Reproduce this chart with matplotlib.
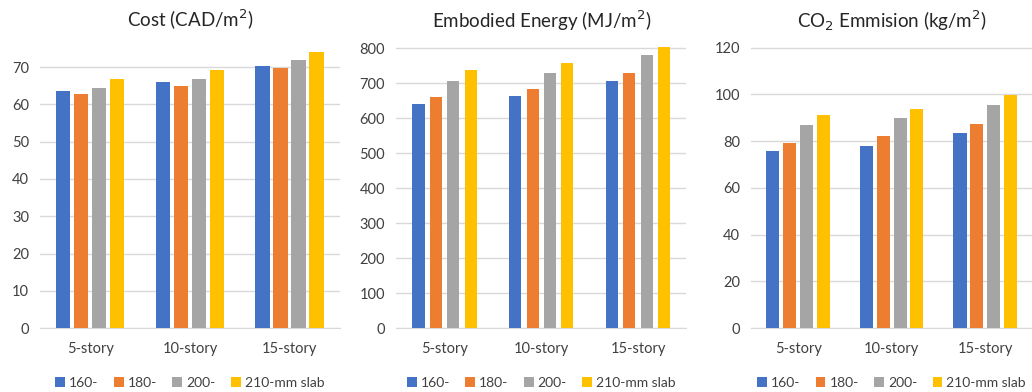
import numpy as np
import matplotlib.pyplot as plt

plt.rcParams['font.family'] = ['Lato', 'DejaVu Sans']

categories = ['5-story', '10-story', '15-story']
series = ['160-', '180-', '200-', '210-mm slab']
colors = ['#4472C4', '#ED7D31', '#A5A5A5', '#FFC000']

cost = [
    [63.6, 65.9, 70.2],
    [62.8, 65.0, 69.9],
    [64.5, 66.7, 72.0],
    [66.7, 69.3, 74.2],
]
energy = [
    [640, 663, 706],
    [659, 683, 729],
    [706, 729, 780],
    [738, 757, 803],
]
co2 = [
    [75.7, 77.8, 83.3],
    [79.2, 82.0, 87.5],
    [86.8, 89.7, 95.3],
    [91.0, 93.9, 99.5],
]

panels = [
    ('Cost (CAD/m$^2$)', cost, (0, 75.4), np.arange(0, 71, 10), [0.039, 0.290], 0.145),
    ('Embodied Energy (MJ/m$^2$)', energy, (0, 803), np.arange(0, 801, 100), [0.384, 0.281], 0.125),
    ('CO$_2$ Emmision (kg/m$^2$)', co2, (0, 120.2), np.arange(0, 121, 20), [0.728, 0.272], 0.14),
]

fig = plt.figure(figsize=(10.32, 3.92), dpi=100)
x = np.arange(len(categories))
step = 0.18

for title, data, ylim, ticks, (left, width), bw in panels:
    ax = fig.add_axes([left, 0.163, width, 0.717])
    for i, (name, vals) in enumerate(zip(series, data)):
        ax.bar(x + (i - 1.5) * step, vals, width=bw, color=colors[i], label=name, zorder=3)
    ax.set_xlim(-0.5, 2.5)
    ax.set_ylim(*ylim)
    ax.set_yticks(ticks)
    ax.set_xticks(x)
    ax.set_xticklabels(categories)
    ax.yaxis.grid(True, color='#d9d9d9', linewidth=1, zorder=0)
    for s in ['top', 'right', 'left']:
        ax.spines[s].set_visible(False)
    ax.spines['bottom'].set_color('#d9d9d9')
    ax.tick_params(axis='both', length=0, labelsize=10.5, colors='#404040', pad=8)
    ax.tick_params(axis='x', pad=10)
    ax.set_title(title, fontsize=13.5, color='#262626', pad=14)
    ax.legend(loc='upper center', bbox_to_anchor=(0.5, -0.13), ncol=4, frameon=False,
              fontsize=10, handlelength=0.7, handleheight=0.7, handletextpad=0.3,
              columnspacing=1.1, labelcolor='#404040')

fig.savefig('out.png', dpi=100)
